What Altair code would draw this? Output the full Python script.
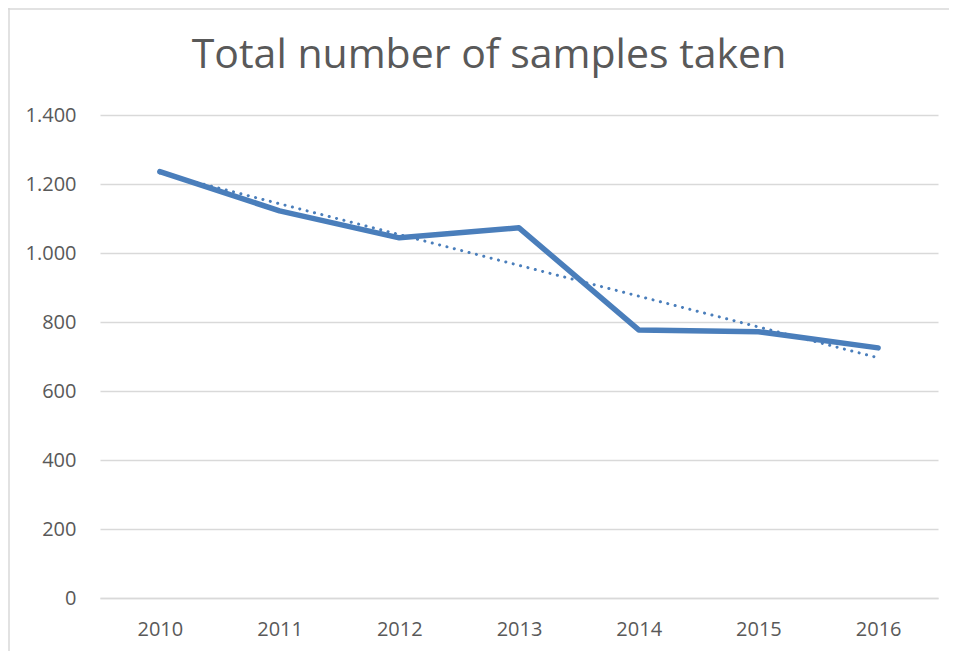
import altair as alt
import pandas as pd

years = [2010, 2011, 2012, 2013, 2014, 2015, 2016]
samples = [1236, 1122, 1044, 1073, 777, 772, 725]
y_ticks = [0, 200, 400, 600, 800, 1000, 1200, 1400]
title_text = ["Total number of samples taken"]

df = pd.DataFrame({"year": years, "samples": samples})
title_df = pd.DataFrame({"t": title_text})

BLUE = "#4A7EBB"
GREY_TXT = "#595959"
GRID = "#D9D9D9"
FONT = "Open Sans"

x_enc = alt.X("year:Q", scale=alt.Scale(domain=[2009.5, 2016.5], nice=False, zero=False),
              axis=alt.Axis(values=years, format="d", title=None, grid=False, ticks=False,
                            domain=True, domainColor=GRID, domainWidth=1.5, labelFontSize=20,
                            labelColor=GREY_TXT, labelFont=FONT, labelPadding=21))
y_enc = alt.Y("samples:Q", scale=alt.Scale(domain=[0, 1400], nice=False),
              axis=alt.Axis(values=y_ticks, title=None, ticks=False, domain=False,
                            gridColor=GRID, gridWidth=1.5, labelFontSize=20,
                            labelColor=GREY_TXT, labelFont=FONT, labelPadding=24,
                            labelExpr="replace(format(datum.value, ','), ',', '.')"))

base = alt.Chart(df)

line = base.mark_line(color=BLUE, strokeWidth=5.5, strokeCap="round", strokeJoin="round").encode(
    x=x_enc, y=y_enc)

trend = base.transform_regression("year", "samples", method="linear").mark_line(
    color=BLUE, strokeWidth=3, strokeCap="round", strokeDash=[0.1, 7.5]).encode(
    x=alt.X("year:Q"), y=alt.Y("samples:Q"))

title = alt.Chart(title_df).mark_text(font=FONT, fontSize=41, color=GREY_TXT,
                                      align="center", baseline="alphabetic").encode(
    text="t:N", x=alt.value(389), y=alt.value(-47))

border_left = alt.Chart(title_df).mark_rule(color=GRID, strokeWidth=1.5).encode(
    x=alt.value(-91), y=alt.value(-107), y2=alt.value(536))
border_top = alt.Chart(title_df).mark_rule(color=GRID, strokeWidth=1.5).encode(
    y=alt.value(-106), x=alt.value(-92), x2=alt.value(849))

chart = alt.layer(border_left, border_top, title, trend, line).properties(
    width=838, height=483,
    autosize=alt.AutoSizeParams(type="none"),
    padding={"left": 92, "top": 107, "right": 11, "bottom": 53},
    background="white",
).configure_view(strokeWidth=0)

chart.save("out.html", embed_options={"renderer": "svg", "actions": False})
